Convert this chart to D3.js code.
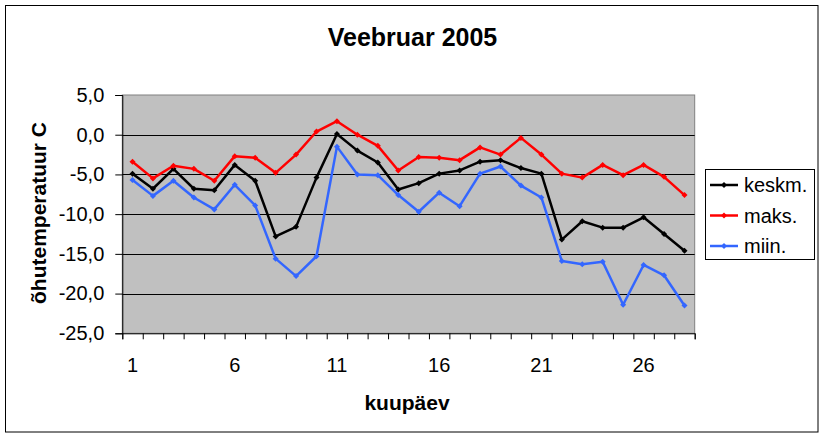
<!DOCTYPE html>
<html>
<head>
<meta charset="utf-8">
<script src="https://cdn.jsdelivr.net/npm/d3@7"></script>
<style>
  body { margin: 0; background: #fff; }
  text { font-family: "Liberation Sans", Arial, sans-serif; }
</style>
</head>
<body>
<script>
// chart data
const days = [1, 2, 3, 4, 5, 6, 7, 8, 9, 10, 11, 12, 13, 14, 15, 16, 17, 18, 19, 20, 21, 22, 23, 24, 25, 26, 27, 28];
const dayLabels = [1, 6, 11, 16, 21, 26];
const keskm = [-4.9, -6.8, -4.3, -6.8, -7.0, -3.8, -5.8, -12.8, -11.6, -5.4, 0.1, -2.0, -3.5, -6.9, -6.1, -4.9, -4.5, -3.4, -3.2, -4.2, -4.9, -13.2, -10.9, -11.7, -11.7, -10.4, -12.5, -14.6];
const maks = [-3.4, -5.5, -3.9, -4.3, -5.8, -2.7, -2.9, -4.8, -2.5, 0.4, 1.7, 0.0, -1.4, -4.5, -2.8, -2.9, -3.2, -1.6, -2.5, -0.4, -2.5, -4.9, -5.4, -3.8, -5.1, -3.8, -5.3, -7.6];
const miin = [-5.7, -7.7, -5.8, -7.9, -9.4, -6.3, -8.9, -15.6, -17.8, -15.3, -1.5, -5.0, -5.1, -7.6, -9.7, -7.3, -9.0, -4.9, -4.0, -6.4, -7.9, -15.9, -16.3, -16.0, -21.4, -16.4, -17.7, -21.5];
const yTicks = [5, 0, -5, -10, -15, -20, -25];

const seriesNames = ["keskm.", "maks.", "miin."];
const seriesValues = [keskm, maks, miin];
const seriesColors = ["#000000", "#FF0000", "#3366FF"];

const w = 825, h = 438;
const plot = { left: 122.3, right: 694.7, top: 95, bottom: 333.3 };

const svg = d3.select("body").append("svg")
    .attr("width", w)
    .attr("height", h);

//outer chart border
svg.append("rect")
    .attr("x", 5.5).attr("y", 5.5)
    .attr("width", 812.5).attr("height", 426.5)
    .attr("fill", "#fff")
    .attr("stroke", "#000");

//title
svg.append("text")
    .attr("x", 412.5).attr("y", 46)
    .attr("text-anchor", "middle")
    .style("font-size", "25px").style("font-weight", "bold")
    .text("Veebruar 2005");

//scales
const x = d3.scaleBand()
    .domain(days)
    .range([plot.left, plot.right]);
const xEdge = d3.scaleLinear()
    .domain([0, days.length])
    .range([plot.left, plot.right]);
const y = d3.scaleLinear()
    .domain([-25, 5])
    .range([plot.bottom, plot.top]);

//plot background
svg.append("rect")
    .attr("x", plot.left).attr("y", plot.top)
    .attr("width", plot.right - plot.left)
    .attr("height", plot.bottom - plot.top)
    .attr("fill", "#C0C0C0")
    .attr("stroke", "#808080");

//gridlines
svg.append("g")
    .selectAll("line")
    .data(yTicks.filter(d => d > -25 && d < 5))
    .enter().append("line")
    .attr("x1", plot.left).attr("x2", plot.right)
    .attr("y1", d => Math.round(y(d)) + 0.5)
    .attr("y2", d => Math.round(y(d)) + 0.5)
    .attr("stroke", "#000");

const fmt = d3.formatLocale({ decimal: ",", thousands: " ", grouping: [3], currency: ["", ""], minus: "-" }).format(".1f");

//y axis
const yAxis = svg.append("g")
    .attr("transform", `translate(${plot.left},0)`)
    .call(d3.axisLeft(y).tickValues(yTicks).tickFormat(fmt).tickSize(7).tickPadding(11));
yAxis.selectAll("text").style("font-size", "20px").attr("fill", "#000");

//x axis, boundary ticks
const xAxis = svg.append("g")
    .attr("transform", `translate(0,${plot.bottom})`)
    .call(d3.axisBottom(xEdge).tickValues(d3.range(days.length + 1)).tickFormat("").tickSize(6));
//x labels at category centres
const xLabels = svg.append("g")
    .attr("transform", `translate(0,${plot.bottom})`)
    .call(d3.axisBottom(x).tickValues(dayLabels).tickSize(0).tickPadding(25));
xLabels.select(".domain").remove();
xLabels.selectAll("text").style("font-size", "20px").attr("fill", "#000");
svg.selectAll(".domain, .tick line").attr("stroke", "#000");

//axis titles
svg.append("text")
    .attr("x", 407).attr("y", 410)
    .attr("text-anchor", "middle")
    .style("font-size", "21px").style("font-weight", "bold")
    .text("kuupäev");
svg.append("text")
    .attr("transform", "translate(46,213) rotate(-90)")
    .attr("text-anchor", "middle")
    .style("font-size", "21px").style("font-weight", "bold")
    .text("õhutemperatuur C");

//lines and markers
const line = d3.line()
    .x((d, i) => x(days[i]) + x.bandwidth() / 2)
    .y(d => y(d));
const marker = d3.symbol().type(d3.symbolSquare).size(18);

seriesValues.forEach((vals, s) => {
    svg.append("path")
        .datum(vals)
        .attr("d", line)
        .attr("fill", "none")
        .attr("stroke", seriesColors[s])
        .attr("stroke-width", 2.5)
        .attr("stroke-linejoin", "round");
    svg.append("g")
        .selectAll("path")
        .data(vals)
        .enter().append("path")
        .attr("d", marker)
        .attr("transform", (d, i) => `translate(${x(days[i]) + x.bandwidth() / 2},${y(d)}) rotate(45)`)
        .attr("fill", seriesColors[s]);
});

//legend
const legend = svg.append("g");
legend.append("rect")
    .attr("x", 705.5).attr("y", 169.5)
    .attr("width", 109).attr("height", 90)
    .attr("fill", "#fff")
    .attr("stroke", "#000");
const legendY = [185, 215.5, 246];
seriesNames.forEach((name, s) => {
    legend.append("line")
        .attr("x1", 710).attr("x2", 738)
        .attr("y1", legendY[s]).attr("y2", legendY[s])
        .attr("stroke", seriesColors[s])
        .attr("stroke-width", 2.5);
    legend.append("path")
        .attr("d", marker)
        .attr("transform", `translate(724,${legendY[s]}) rotate(45)`)
        .attr("fill", seriesColors[s]);
    legend.append("text")
        .attr("x", 744).attr("y", legendY[s])
        .attr("dy", "0.35em")
        .style("font-size", "20px")
        .text(name);
});
</script>
</body>
</html>
